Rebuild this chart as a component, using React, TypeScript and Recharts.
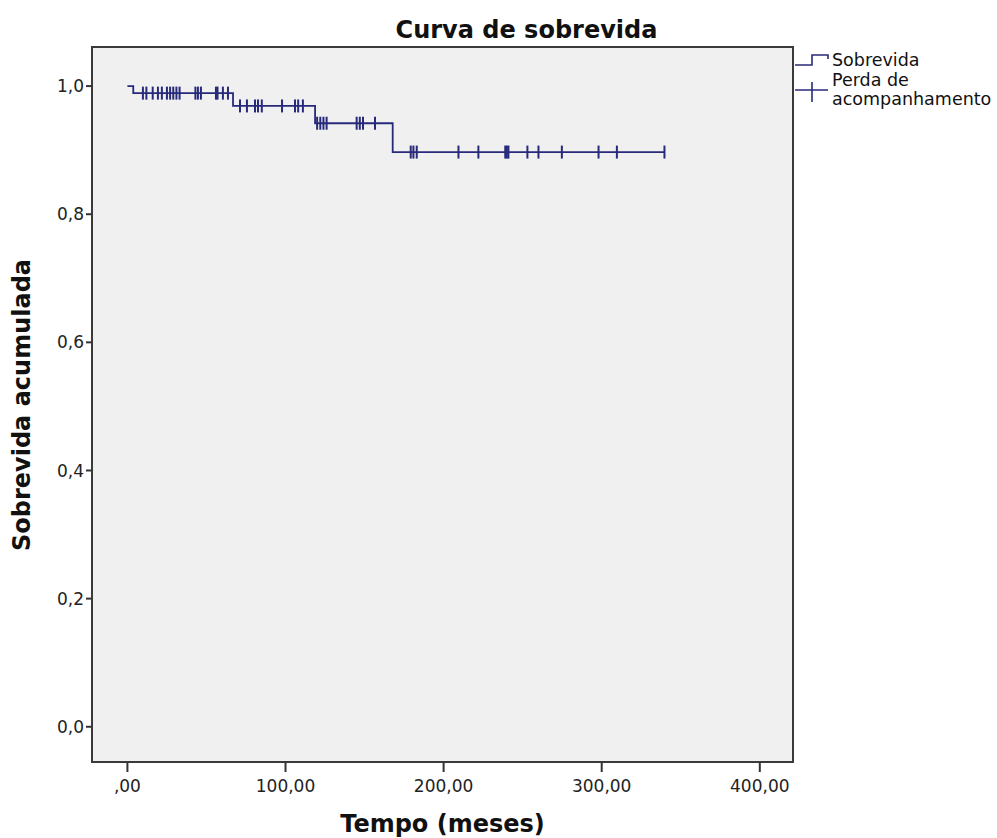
import {
  ComposedChart, Line, Scatter, XAxis, YAxis, ReferenceArea,
} from "recharts";

const NAVY = "#272a7a";
const FONT = "'DejaVu Sans', Verdana, sans-serif";

// Kaplan-Meier steps (tempo em meses, sobrevida acumulada)
const stepTimes = [0, 3.7, 66.8, 118.7, 167.8, 340];
const stepValues = [1.0, 0.989, 0.969, 0.942, 0.897, 0.897];

// censored observations (perda de acompanhamento)
const censorTimes = [
  9.8, 12, 16, 19.3, 21.8, 25, 27, 29, 31, 33, 43, 44.6, 46.5, 56, 57, 60.4, 63.6,
  71.2, 75.6, 80.7, 82.6, 85, 97.8, 106, 108, 111,
  120, 122, 124, 126, 145, 147, 149, 156.6,
  179.2, 180.9, 183, 209.4, 222, 239, 240, 241, 253, 260, 274.8, 298, 309.6, 339.7,
];

const xTicks = [0, 100, 200, 300, 400];
const yTicks = [0, 0.2, 0.4, 0.6, 0.8, 1.0];

const curve = stepTimes.map((t, i) => ({ t, s: stepValues[i] }));

function levelAt(t: number) {
  let v = stepValues[0];
  for (let i = 0; i < stepTimes.length; i++) if (stepTimes[i] <= t) v = stepValues[i];
  return v;
}
const censored = censorTimes.map((t) => ({ t, s: levelAt(t) }));

const CensorMark = (props: any) => {
  const { cx, cy } = props;
  return <line x1={cx} x2={cx} y1={cy - 6.5} y2={cy + 6.5} stroke={NAVY} strokeWidth={2} />;
};

const tickStyle = { fill: "#222", fontSize: 17, fontFamily: FONT };

export default function App() {
  return (
    <div style={{ position: "absolute", left: 0, top: 0, width: 997, height: 838, background: "#fff", fontFamily: FONT }}>
      <ComposedChart width={997} height={838} margin={{ top: 47, right: 204, bottom: 0, left: 0 }}>
        <XAxis
          type="number"
          dataKey="t"
          domain={[-22.4, 421]}
          allowDataOverflow
          ticks={xTicks}
          tickFormatter={(v) => (v === 0 ? ",00" : `${v},00`)}
          height={76}
          axisLine={false}
          tickSize={10}
          tickLine={{ stroke: "#333", strokeWidth: 2 }}
          tick={tickStyle}
          tickMargin={8}
        />
        <YAxis
          type="number"
          dataKey="s"
          domain={[-0.055, 1.061]}
          allowDataOverflow
          ticks={yTicks}
          tickFormatter={(v) => v.toFixed(1).replace(".", ",")}
          width={92}
          axisLine={false}
          tickSize={6}
          tickLine={{ stroke: "#333", strokeWidth: 2 }}
          tick={tickStyle}
          tickMargin={2}
        />
        <ReferenceArea x1={-22.4} x2={421} y1={-0.055} y2={1.061} fill="#f0f0f0" fillOpacity={1} stroke="#3a3a3a" strokeWidth={2} />
        <Line
          data={curve}
          dataKey="s"
          type="stepAfter"
          stroke={NAVY}
          strokeWidth={1.8}
          dot={false}
          isAnimationActive={false}
        />
        <Scatter data={censored} dataKey="s" shape={CensorMark} isAnimationActive={false} />
      </ComposedChart>

      <div style={{ position: "absolute", left: 0, width: 1053, top: 16, textAlign: "center", fontSize: 24, fontWeight: "bold", color: "#111" }}>
        Curva de sobrevida
      </div>
      <div style={{ position: "absolute", left: 92, width: 701, top: 810, textAlign: "center", fontSize: 24, fontWeight: "bold", color: "#111" }}>
        Tempo (meses)
      </div>
      <div style={{ position: "absolute", left: 22, top: 405, transform: "translate(-50%, -50%) rotate(-90deg)", whiteSpace: "nowrap", fontSize: 24, fontWeight: "bold", color: "#111" }}>
        Sobrevida acumulada
      </div>

      {/* legend */}
      <svg style={{ position: "absolute", left: 793, top: 50 }} width={40} height={60}>
        <polyline points="2,15 19,15 19,5 35,5 35,9" fill="none" stroke={NAVY} strokeWidth={1.6} />
        <line x1={2} x2={35} y1={40} y2={40} stroke={NAVY} strokeWidth={1.6} />
        <line x1={19} x2={19} y1={32} y2={52} stroke={NAVY} strokeWidth={1.6} />
      </svg>
      <div style={{ position: "absolute", left: 832, top: 51, fontSize: 17.5, lineHeight: "19.5px", color: "#111" }}>
        <div>Sobrevida</div>
        <div>Perda de</div>
        <div>acompanhamento</div>
      </div>
    </div>
  );
}
